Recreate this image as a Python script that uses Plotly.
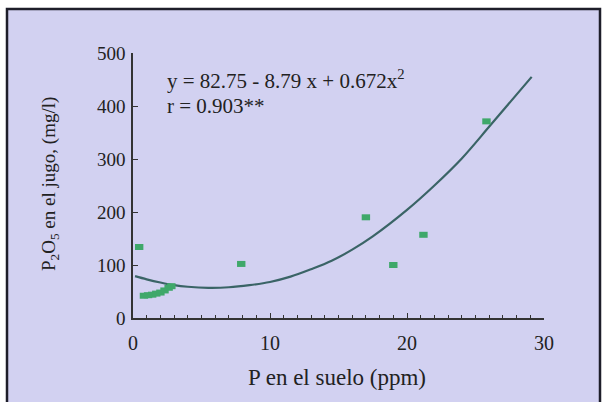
import plotly.graph_objects as go

# Data
pts_x = [0.45, 0.8, 1.1, 1.4, 1.7, 2.0, 2.3, 2.6, 2.8, 7.9, 17.0, 19.0, 21.2, 25.8]
pts_y = [134, 42, 43, 44, 46, 48, 52, 57, 60, 102, 190, 100, 157, 371]

curve_x = [0.15, 1.0, 2.0, 3.0, 4.0, 5.5, 7.0, 8.5, 10.0, 11.5, 13.0, 14.5, 16.0, 17.5, 20.0, 22.0, 24.0, 26.1, 29.1]
curve_y = [79, 73, 67, 62, 59, 57, 58, 62, 68, 78, 92, 108, 129, 154, 204, 250, 301, 364, 455]

x_ticks = [0, 10, 20, 30]
y_ticks = [0, 100, 200, 300, 400, 500]

eq_text = "y = 82.75 - 8.79 x + 0.672x<sup>2</sup>"
r_text = "r = 0.903**"
x_title = "P en el suelo (ppm)"
y_title = "P<sub>2</sub>O<sub>5</sub> en el jugo, (mg/l)"

FONT = "Liberation Serif, Times New Roman, serif"
BG = "#d2d1f1"
TXT = "#222222"

# pixel geometry helpers (602x402 canvas)
L, R, T, B = 133, 544, 53, 318
W, H = 602, 402
def px(xp):
    return (xp - L) / (R - L)
def py(yp):
    return (B - yp) / (B - T)

fig = go.Figure()
fig.add_trace(go.Scatter(
    x=curve_x, y=curve_y, mode="lines",
    line=dict(color="#3a6466", width=2.2, shape="spline", smoothing=1.0),
    hoverinfo="skip", showlegend=False))
fig.add_trace(go.Scatter(
    x=pts_x, y=pts_y, mode="markers",
    marker=dict(symbol="line-ew", size=6,
                line=dict(color="#3fa86a", width=6)),
    showlegend=False))

fig.add_shape(type="rect", xref="paper", yref="paper",
              x0=px(7), x1=px(600), y0=py(410), y1=py(9),
              fillcolor=BG, line=dict(color="#1e1e2a", width=2.5),
              layer="below")

fig.add_annotation(x=px(165), y=py(79), xref="paper", yref="paper", text=eq_text,
                   showarrow=False, xanchor="left", yanchor="middle",
                   font=dict(family=FONT, size=21, color=TXT))
fig.add_annotation(x=px(165), y=py(106), xref="paper", yref="paper", text=r_text,
                   showarrow=False, xanchor="left", yanchor="middle",
                   font=dict(family=FONT, size=21, color=TXT))

fig.add_annotation(x=px(337), y=py(377), xref="paper", yref="paper", text=x_title,
                   showarrow=False, xanchor="center", yanchor="middle",
                   font=dict(family=FONT, size=23, color=TXT))
fig.add_annotation(x=px(50), y=py(184), xref="paper", yref="paper", text=y_title,
                   showarrow=False, xanchor="center", yanchor="middle", textangle=-90,
                   font=dict(family=FONT, size=19, color=TXT))

fig.update_layout(
    width=W, height=H,
    margin=dict(l=L, r=W - R, t=T, b=H - B),
    paper_bgcolor="white", plot_bgcolor="rgba(0,0,0,0)",
    font=dict(family=FONT, size=20, color=TXT),
    showlegend=False,
)
fig.update_xaxes(range=[0, 30], tickvals=x_ticks, showgrid=False, zeroline=False,
                 showline=True, linecolor="#333", linewidth=1.5,
                 ticks="inside", ticklen=5, tickcolor="#333",
                 minor=dict(dtick=1, ticks="inside", ticklen=3, tickcolor="#333", showgrid=False),
                 tickfont=dict(family=FONT, size=20, color=TXT), ticklabelstandoff=6)
fig.update_yaxes(range=[0, 500], tickvals=y_ticks, showgrid=False, zeroline=False,
                 showline=True, linecolor="#333", linewidth=1.5,
                 ticks="inside", ticklen=5, tickcolor="#333",
                 tickfont=dict(family=FONT, size=19, color=TXT), ticklabelstandoff=2)

fig.write_html("out.html")
